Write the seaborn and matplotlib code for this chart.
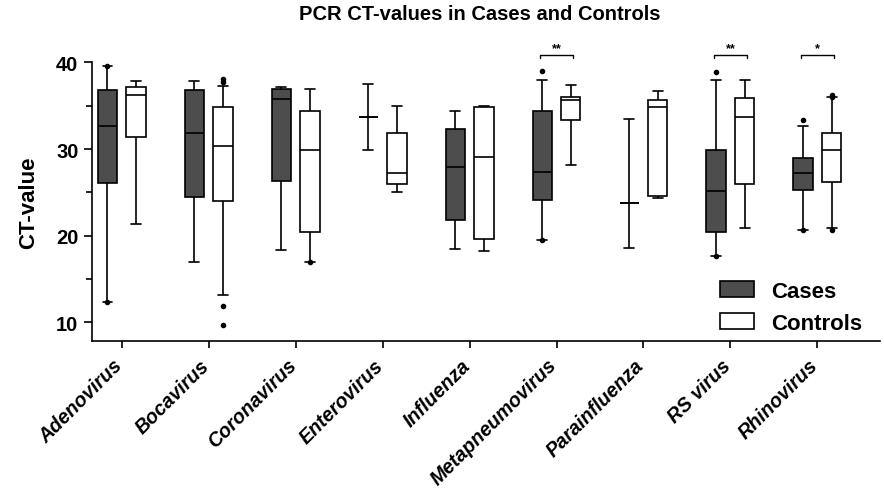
import matplotlib
matplotlib.use('Agg')
import matplotlib.pyplot as plt
from matplotlib.patches import Patch
from matplotlib.ticker import MultipleLocator
from matplotlib.transforms import ScaledTranslation
import pandas as pd
import seaborn as sns

# %% values (box summary per virus)
viruses = ['Adenovirus', 'Bocavirus', 'Coronavirus', 'Enterovirus', 'Influenza',
           'Metapneumovirus', 'Parainfluenza', 'RS virus', 'Rhinovirus']

cases_low = [12.4, 17.0, 18.4, 29.85, 18.5, 19.5, 18.6, 17.7, 20.65]
cases_q1 = [26.1, 24.5, 26.3, 33.65, 21.8, 24.15, 23.8, 20.4, 25.3]
cases_med = [32.6, 31.8, 35.8, 33.65, 27.9, 27.4, 23.8, 25.2, 27.2]
cases_q3 = [36.8, 36.8, 36.9, 33.65, 32.3, 34.35, 23.8, 29.9, 29.0]
cases_high = [39.6, 37.8, 37.2, 37.5, 34.4, 37.96, 33.45, 37.9, 32.7]

ctrl_low = [21.3, 13.15, 17.0, 25.0, 18.3, 28.1, 24.4, 20.9, 20.85]
ctrl_q1 = [31.4, 24.0, 20.4, 26.0, 19.6, 33.4, 24.6, 26.0, 26.2]
ctrl_med = [36.2, 30.3, 29.85, 27.2, 29.1, 35.7, 34.85, 33.7, 29.9]
ctrl_q3 = [37.1, 34.8, 34.4, 31.8, 34.9, 36.0, 35.7, 35.9, 31.9]
ctrl_high = [37.8, 37.3, 36.9, 35.0, 35.0, 37.4, 36.65, 37.96, 35.95]

# outlier dots: virus, group, value
out_virus = ['Adenovirus', 'Adenovirus', 'Bocavirus', 'Bocavirus', 'Bocavirus', 'Bocavirus',
             'Coronavirus', 'Metapneumovirus', 'Metapneumovirus', 'RS virus', 'RS virus',
             'Rhinovirus', 'Rhinovirus', 'Rhinovirus', 'Rhinovirus', 'Rhinovirus']
out_group = ['Cases', 'Cases', 'Controls', 'Controls', 'Controls', 'Controls',
             'Controls', 'Cases', 'Cases', 'Cases', 'Cases',
             'Cases', 'Cases', 'Controls', 'Controls', 'Controls']
out_value = [39.6, 12.4, 37.7, 38.1, 11.85, 9.7,
             17.0, 39.0, 19.5, 38.9, 17.7,
             33.4, 20.65, 36.2, 36.0, 20.7]

sig_virus = ['Metapneumovirus', 'RS virus', 'Rhinovirus']
sig_label = ['**', '**', '*']

# %% build a long table: five values per box reproduce the box exactly
rows = []
for i, v in enumerate(viruses):
    for grp, vals in (('Cases', (cases_low[i], cases_q1[i], cases_med[i], cases_q3[i], cases_high[i])),
                      ('Controls', (ctrl_low[i], ctrl_q1[i], ctrl_med[i], ctrl_q3[i], ctrl_high[i]))):
        for val in vals:
            rows.append({'virus': v, 'group': grp, 'ct': val})
df = pd.DataFrame(rows)

# %% plot
sns.set_style('ticks')
plt.rcParams['font.family'] = ['Liberation Sans', 'DejaVu Sans']
for key in ('text.color', 'axes.labelcolor', 'xtick.color', 'ytick.color', 'axes.edgecolor'):
    plt.rcParams[key] = 'black'

dark = '#4d4d4d'
box_width = 0.66
fig = plt.figure(figsize=(8.84, 4.89), dpi=100)
ax = fig.add_axes([0.1037, 0.3012, 0.8918, 0.5694])

sns.boxplot(data=df, x='virus', y='ct', hue='group', order=viruses,
            hue_order=['Cases', 'Controls'],
            palette={'Cases': dark, 'Controls': 'white'},
            width=box_width, gap=0.33, whis=(0, 100), linecolor='black',
            linewidth=1.2, fliersize=0, legend=False, ax=ax)

# outliers
shift = {'Cases': -box_width / 4, 'Controls': box_width / 4}
xo = [viruses.index(v) + shift[g] for v, g in zip(out_virus, out_group)]
ax.plot(xo, out_value, 'o', ms=3, color='black', clip_on=False, zorder=5)

# significance brackets
for v, lab in zip(sig_virus, sig_label):
    i = viruses.index(v)
    ax.plot([i - 0.19, i - 0.19, i + 0.19, i + 0.19], [40.55, 40.8, 40.8, 40.55],
            color='black', lw=1, clip_on=False)
    ax.text(i, 40.95, lab, ha='center', va='bottom', fontsize=9, fontweight='bold')

ax.set_xlim(-0.345, 8.72)
ax.set_ylim(7.9, 40)
ax.yaxis.set_major_locator(MultipleLocator(10))
ax.yaxis.set_minor_locator(MultipleLocator(5))
ax.tick_params(axis='y', which='major', length=6, width=1.2, labelsize=14.5)
ax.tick_params(axis='y', which='minor', length=4, width=1.2)
ax.tick_params(axis='x', length=5, width=1.2, pad=5.5)
for lab in ax.get_yticklabels():
    lab.set_fontweight('bold')
ax.set_xticks(range(len(viruses)))
ax.set_xticklabels(viruses, rotation=45, ha='right', va='top', rotation_mode='anchor',
                   fontsize=14.2, fontweight='bold', fontstyle='italic')
nudge = ScaledTranslation(-6.5 / 72, 0, fig.dpi_scale_trans)
for lab in ax.get_xticklabels():
    lab.set_transform(lab.get_transform() + nudge)
sns.despine(ax=ax)
for s in ('left', 'bottom'):
    ax.spines[s].set_linewidth(1.2)

ax.set_xlabel('')
ax.set_ylabel('CT-value', fontsize=16, fontweight='bold', labelpad=12)
fig.text(0.543, 1 - 15 / 489, 'PCR CT-values in Cases and Controls',
         ha='center', va='center', fontsize=14.5, fontweight='bold')

handles = [Patch(facecolor=dark, edgecolor='black', lw=1.2, label='Cases'),
           Patch(facecolor='white', edgecolor='black', lw=1.2, label='Controls')]
ax.legend(handles=handles, loc='lower right', bbox_to_anchor=(0.977, 0.025),
          frameon=False, prop={'weight': 'bold', 'size': 16}, handlelength=1.5,
          handleheight=0.77, handletextpad=0.77, labelspacing=0.5,
          borderpad=0, borderaxespad=0)

fig.savefig('out.png', dpi=100)
